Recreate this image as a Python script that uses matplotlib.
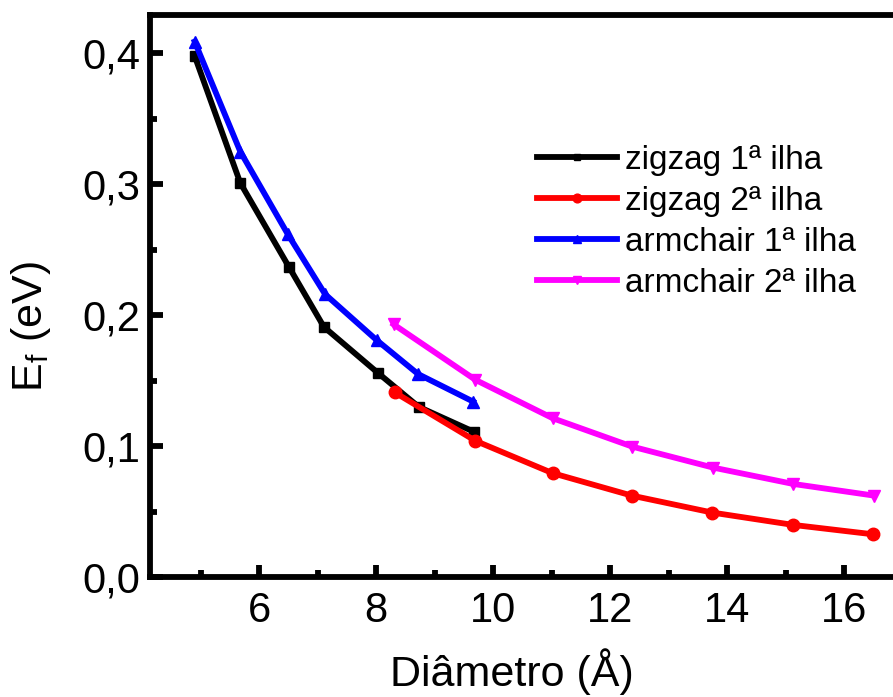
import matplotlib
matplotlib.use("Agg")
import matplotlib.pyplot as plt
from matplotlib.ticker import MultipleLocator

plt.rcParams['font.family'] = ['Liberation Sans', 'DejaVu Sans']

zz1_x = [4.90, 5.68, 6.51, 7.11, 8.03, 8.73, 9.67]
zz1_y = [0.398, 0.301, 0.237, 0.191, 0.156, 0.130, 0.111]
zz2_x = [8.32, 9.70, 11.02, 12.37, 13.75, 15.13, 16.50]
zz2_y = [0.141, 0.104, 0.0793, 0.0622, 0.0492, 0.0398, 0.0326]
ac1_x = [4.90, 5.68, 6.49, 7.13, 8.01, 8.72, 9.66]
ac1_y = [0.409, 0.325, 0.262, 0.216, 0.181, 0.155, 0.134]
ac2_x = [8.30, 9.70, 11.02, 12.38, 13.76, 15.13, 16.51]
ac2_y = [0.193, 0.1506, 0.1213, 0.0996, 0.0836, 0.0711, 0.0622]

labels = ['zigzag 1ª ilha', 'zigzag 2ª ilha', 'armchair 1ª ilha', 'armchair 2ª ilha']
xticks = [6, 8, 10, 12, 14, 16]
yticks = [0.0, 0.1, 0.2, 0.3, 0.4]
ytick_labels = ['0,0', '0,1', '0,2', '0,3', '0,4']

fig = plt.figure(figsize=(8.93, 6.97), dpi=100)
W, H = 893, 697
left_px, right_px, top_px, bot_px = 150, 900, 15, 577
ax = fig.add_axes([left_px / W, 1 - bot_px / H, (right_px - left_px) / W, (bot_px - top_px) / H])

lw = 4.2
ax.plot(zz1_x, zz1_y, color='black', marker='s', ms=7, lw=lw, label=labels[0])
ax.plot(zz2_x, zz2_y, color='#ff0000', marker='o', ms=9, lw=lw, label=labels[1])
ax.plot(ac1_x, ac1_y, color='#0000ff', marker='^', ms=9, lw=lw, label=labels[2])
ax.plot(ac2_x, ac2_y, color='#ff00ff', marker='v', ms=9, lw=lw, label=labels[3])

ppu = 58.5
ax.set_xlim(6 - (259 - left_px) / ppu, 6 + (right_px - 259) / ppu)
ax.set_ylim(0, 0.4293)

ax.set_xticks(xticks)
ax.set_xticklabels([str(t) for t in xticks])
ax.xaxis.set_minor_locator(MultipleLocator(1))
ax.set_yticks(yticks)
ax.set_yticklabels(ytick_labels)
ax.yaxis.set_minor_locator(MultipleLocator(0.05))

ax.tick_params(which='major', direction='in', length=9, width=4.2, labelsize=30)
ax.tick_params(which='minor', direction='in', length=5, width=4.2)
ax.tick_params(axis='x', which='major', pad=10)
ax.tick_params(axis='y', which='major', pad=7)
ax.tick_params(axis='both', which='both', top=False, right=False)

for s in ['left', 'bottom', 'top', 'right']:
    ax.spines[s].set_linewidth(4.2)
ax.spines['right'].set_visible(False)

ax.set_xlabel('Diâmetro (Å)', fontsize=31)
ax.set_ylabel(r'E$_\mathregular{f}$ (eV)', fontsize=31)
ax.xaxis.set_label_coords((512 - left_px) / (right_px - left_px), (bot_px - 672) / (bot_px - top_px))
ax.xaxis.label.set_verticalalignment('center')
ax.yaxis.set_label_coords((31 - left_px) / (right_px - left_px), (bot_px - 326) / (bot_px - top_px))
ax.yaxis.label.set_verticalalignment('center')

leg = ax.legend(loc='upper left', bbox_to_anchor=(537 / W, 1 - 145 / H),
                bbox_transform=fig.transFigure, frameon=False, fontsize=24,
                handlelength=2.4, handletextpad=0.24, labelspacing=0.3,
                borderpad=0, borderaxespad=0, markerscale=0.7)

fig.savefig('out.png', dpi=100)
